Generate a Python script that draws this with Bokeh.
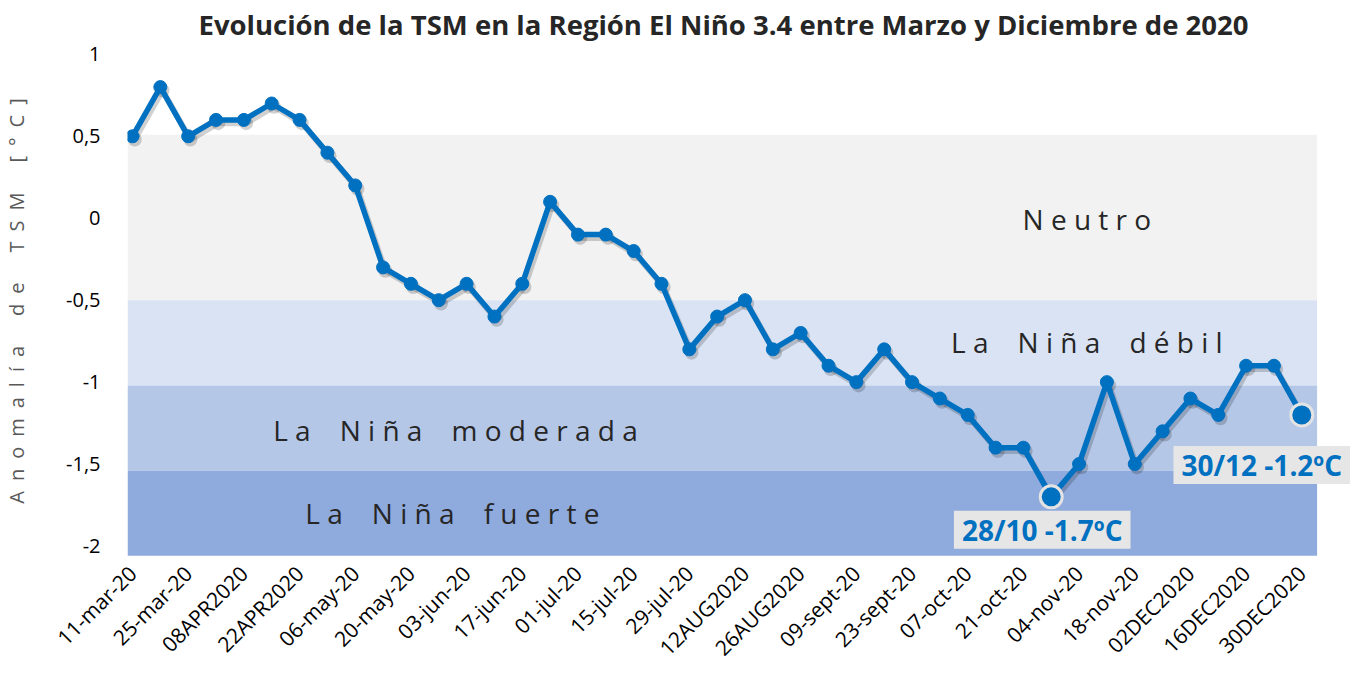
import math
from bokeh.plotting import figure
from bokeh.models import (Range1d, FixedTicker, CustomJSTickFormatter, Label,
                          ColumnDataSource)
from bokeh.core.properties import value
from bokeh.embed import file_html
from bokeh.resources import INLINE

# ---------------- data ----------------
anomaly = [0.5, 0.8, 0.5, 0.6, 0.6, 0.7, 0.6, 0.4, 0.2, -0.3, -0.4, -0.5, -0.4,
           -0.6, -0.4, 0.1, -0.1, -0.1, -0.2, -0.4, -0.8, -0.6, -0.5, -0.8,
           -0.7, -0.9, -1.0, -0.8, -1.0, -1.1, -1.2, -1.4, -1.4, -1.7, -1.5,
           -1.0, -1.5, -1.3, -1.1, -1.2, -0.9, -0.9, -1.2]
tick_labels = ["11-mar-20", "25-mar-20", "08APR2020", "22APR2020", "06-may-20",
               "20-may-20", "03-jun-20", "17-jun-20", "01-jul-20", "15-jul-20",
               "29-jul-20", "12AUG2020", "26AUG2020", "09-sept-20", "23-sept-20",
               "07-oct-20", "21-oct-20", "04-nov-20", "18-nov-20", "02DEC2020",
               "16DEC2020", "30DEC2020"]
band_names = ["Neutro", "La Niña débil", "La Niña moderada", "La Niña fuerte"]
band_top = [0.51, -0.5, -1.02, -1.54]
band_bottom = [-0.5, -1.02, -1.54, -2.06]
highlight_index = [33, 42]
highlight_text = ["28/10 -1.7ºC", "30/12 -1.2ºC"]
y_ticks = [1, 0.5, 0, -0.5, -1, -1.5, -2]

# ---------------- styles / positions ----------------
band_colors = ["#f2f2f2", "#dae3f3", "#b4c7e7", "#8faadc"]
band_label_x = [34.28, 34.28, 11.6, 11.49]
band_label_y = [-0.005, -0.755, -1.29, -1.80]
BLUE = "#0070c0"


def spaced(s, gap=" ", word_gap=" \u00a0\u00a0 "):
    return word_gap.join(gap.join(w) for w in s.split(" "))


# the frame extends a little right of the bands so the end label is not clipped
x_start, x_end = -0.18, 43.75
band_left, band_right = -0.18, 42.55
p = figure(width=1352, height=675,
           x_range=Range1d(x_start, x_end), y_range=Range1d(-2.07, 1.06),
           output_backend="svg", toolbar_location=None,
           min_border_left=127, min_border_right=2,
           min_border_top=44, min_border_bottom=118)
p.outline_line_color = None
p.xgrid.visible = False
p.ygrid.visible = False
p.background_fill_color = "white"

p.title.text = "Evolución de la TSM en la Región El Niño 3.4 entre Marzo y Diciembre de 2020"
p.title.align = "left"
p.title.offset = 71
p.title.vertical_align = "top"
p.title.text_font = "Open Sans"
p.title.text_font_size = "27.5px"
p.title.text_font_style = "bold"
p.title.text_color = "#262626"
p.title.standoff = 0

# bands
bsrc = ColumnDataSource(dict(top=band_top, bottom=band_bottom, color=band_colors,
                             left=[band_left] * 4, right=[band_right] * 4))
p.quad(left="left", right="right", top="top", bottom="bottom", fill_color="color",
       line_color=None, source=bsrc)

# band labels
lsrc = ColumnDataSource(dict(x=band_label_x, y=band_label_y,
                             t=[spaced(n) for n in band_names]))
p.text(x="x", y="y", text="t", source=lsrc, text_font=value("Open Sans"),
       text_font_size="28px", text_color="#262626", text_align="center",
       text_baseline="middle")

# series (with a soft drop shadow)
xs = list(range(len(anomaly)))
sh_x = [x + 0.08 for x in xs]
sh_y = [y - 0.02 for y in anomaly]
p.line(sh_x, sh_y, line_color="black", line_alpha=0.18, line_width=6, line_join="round")
p.scatter(sh_x, sh_y, size=14, fill_color="black", fill_alpha=0.18, line_color=None)
p.line(xs, anomaly, line_color=BLUE, line_width=5.5, line_join="round")
p.scatter(xs, anomaly, size=13, fill_color=BLUE, line_color=BLUE)

hx = highlight_index
hy = [anomaly[i] for i in hx]
p.scatter(hx, hy, size=22, fill_color=BLUE, line_color="#e3e3e3", line_width=3)

label_offsets = [(-9, -14), (-40, -31)]
for i, txt, (dx, dy) in zip(hx, highlight_text, label_offsets):
    p.add_layout(Label(x=i, y=anomaly[i], text=txt, x_offset=dx, y_offset=dy,
                       text_align="center", text_baseline="top",
                       text_font="Open Sans", text_font_size="28px",
                       text_font_style="bold", text_color=BLUE,
                       background_fill_color="#e7e6e6", padding=(8, 0)))

# x axis
p.xaxis.ticker = FixedTicker(ticks=list(range(0, len(anomaly), 2)))
p.xaxis.major_label_overrides = {i * 2: lab for i, lab in enumerate(tick_labels)}
p.xaxis.major_label_orientation = math.pi / 4
p.xaxis.axis_line_color = None
p.xaxis.major_tick_line_color = None
p.xaxis.minor_tick_line_color = None
p.xaxis.major_label_standoff = 6
p.xaxis.major_label_text_font = "Open Sans"
p.xaxis.major_label_text_font_size = "21px"
p.xaxis.major_label_text_color = "#000000"

# y axis
p.yaxis.ticker = FixedTicker(ticks=y_ticks)
p.yaxis.formatter = CustomJSTickFormatter(code="return tick.toString().replace('.', ',')")
p.yaxis.axis_line_color = None
p.yaxis.major_tick_line_color = None
p.yaxis.minor_tick_line_color = None
p.yaxis.major_label_standoff = 21
p.yaxis.major_label_text_font = "Open Sans"
p.yaxis.major_label_text_font_size = "20px"
p.yaxis.major_label_text_color = "#000000"
p.yaxis.axis_label = spaced("Anomalía de TSM [°C]", gap="\u2002", word_gap="\u2002\u2002\u2002")
p.yaxis.axis_label_text_font = "Open Sans"
p.yaxis.axis_label_text_font_size = "20px"
p.yaxis.axis_label_text_font_style = "normal"
p.yaxis.axis_label_text_color = "#595959"
p.yaxis.axis_label_standoff = 33

open("out.html", "w").write(file_html(p, INLINE))
